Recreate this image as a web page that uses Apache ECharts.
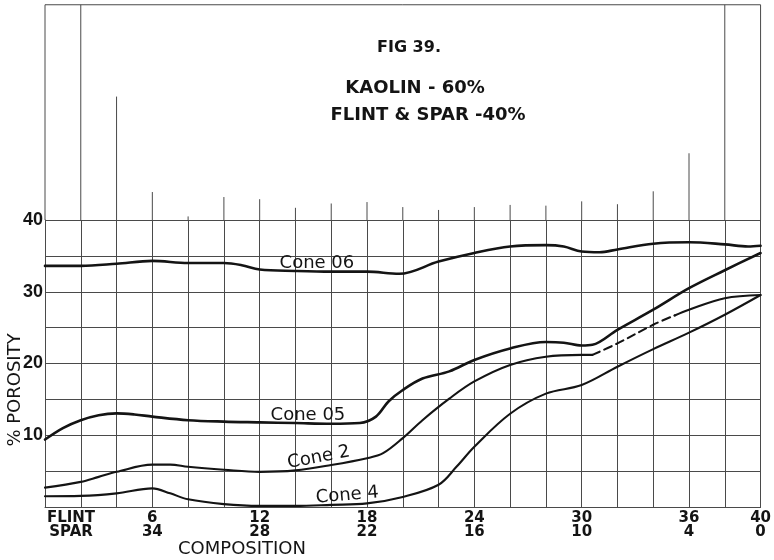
<!DOCTYPE html>
<html>
<head>
<meta charset="utf-8">
<title>Fig 39 – Porosity of kaolin / flint / spar bodies</title>
<script src="https://cdn.jsdelivr.net/npm/echarts@6/dist/echarts.min.js"></script>
<style>
  html, body { margin: 0; padding: 0; background: #fff; }
  #chart { width: 774px; height: 560px; }
</style>
</head>
<body>
<div id="chart"></div>
<script>
// ---- composition axis (flint rises as spar falls, total 40 %) ----
const flintTicks    = [0, 6, 12, 18, 24, 30, 36, 40];
const flintTickText = ['FLINT', '6', '12', '18', '24', '30', '36', '40'];
const sparTickText  = ['SPAR', '34', '28', '22', '16', '10', '4', '0'];

// ---- porosity axis ----
const porosityTicks = [10, 20, 30, 40];

// ---- porosity curves: [flint %, porosity %] ----
const cone06 = [[0,33.6],[2,33.6],[4,33.9],[6,34.3],[8,34.0],[10,34.0],[11,33.7],[12,33.1],[14,32.9],
  [16,32.8],[18,32.8],[19.8,32.5],[22,34.2],[24,35.4],[26,36.3],[28,36.5],[29,36.3],[30,35.6],
  [31,35.5],[32,35.9],[34,36.7],[36,36.9],[38,36.6],[39.3,36.3],[40,36.4]];

const cone05 = [[0,9.4],[1,11.0],[2,12.1],[3,12.8],[4,13.05],[5,12.9],[6,12.6],[8,12.1],[10,11.9],
  [12,11.8],[14,11.7],[16,11.6],[17.6,11.7],[18.5,12.6],[19.2,14.7],[20,16.3],[21.1,17.9],
  [22.6,18.9],[24,20.5],[26,22.1],[28,23.0],[29,22.9],[30,22.5],[30.6,22.6],[32,24.7],[34,27.5],
  [36,30.5],[38,33.0],[40,35.4]];

const cone2 = [[0,2.7],[2,3.5],[3,4.2],[4,4.9],[6,5.9],[7,5.9],[8,5.6],[10,5.2],[12,4.9],[14,5.1],
  [16,5.85],[18,6.8],[18.9,7.5],[20,9.6],[21.1,12.1],[22.6,15.1],[24,17.5],[26,19.8],[28,20.95],
  [30,21.2],[30.6,21.2]];
const cone2Broken = [[30.6,21.2],[32,22.8],[34,25.4],[35.2,26.7]];
const cone2End = [[35.2,26.7],[36,27.5],[38,29.1],[40,29.55]];

const cone4 = [[0,1.5],[2,1.55],[4,1.9],[6,2.6],[7,1.9],[8,1.07],[10,0.4],[12,0.15],[14,0.15],
  [16,0.3],[18,0.5],[20,1.4],[22,3.1],[23,5.6],[24,8.4],[26,13.0],[28,15.8],[30,17.0],[32,19.55],
  [34,22.0],[36,24.3],[38,26.8],[40,29.55]];

// ---- graph-paper rulings that run on above the 40 % line (tops, in porosity units) ----
const rulingFlint = [0,2,4,6,8,10,12,14,16,18,20,22,24,26,28,30,32,34,36,38,40];
const rulingTop   = [70,70,57.2,43.9,40.5,43.2,42.9,41.7,42.3,42.5,41.8,41.4,41.8,42.1,42.0,42.6,42.2,44.0,49.3,70,70];
const sheetTop = 70;

// ---- curve captions ----
const captionText = ['Cone 06', 'Cone 05', 'Cone 2', 'Cone 4'];
const captionAt   = [[15.2, 33.9], [14.7, 12.8], [15.3, 6.9], [16.9, 1.63]];

const captionTilt = [0, 0, 11, 5];
const INK = '#141414';
const RULE = '#4a4a4a';
const FONT = '"DejaVu Sans", "Noto Sans", sans-serif';

const chart = echarts.init(document.getElementById('chart'), null, { renderer: 'canvas' });

function curve(name, data, width, dash) {
  return {
    type: 'line', name, data,
    smooth: 0.35, symbol: 'none', showSymbol: false, silent: true, z: 5,
    lineStyle: { color: INK, width, type: dash ? [8, 5] : 'solid', cap: 'round', join: 'round' }
  };
}

const option = {
  animation: false,
  backgroundColor: '#ffffff',
  grid: { left: 45, right: 12, top: 220, bottom: 53, containLabel: false },
  xAxis: {
    type: 'value', min: 0, max: 40, interval: 2,
    axisLine: { show: true, lineStyle: { color: RULE, width: 1 } },
    axisTick: { show: false },
    splitLine: { show: true, lineStyle: { color: RULE, width: 1 } },
    axisLabel: {
      show: true, margin: 4, color: INK,
      fontFamily: FONT, fontWeight: 'bold', fontSize: 15, lineHeight: 14,
      alignMinLabel: 'left',
      formatter: (v) => {
        const i = flintTicks.indexOf(v);
        if (i < 0) return '';
        if (i === 0) return '{lead|' + flintTickText[0] + '}\n{lead|' + sparTickText[0] + '}';
        return flintTickText[i] + '\n' + sparTickText[i];
      },
      rich: {
        lead: { width: 52, align: 'center', fontFamily: FONT, fontWeight: 'bold', fontSize: 15, lineHeight: 14, color: INK }
      }
    }
  },
  yAxis: {
    type: 'value', min: 0, max: 40, interval: 5,
    axisLine: { show: true, lineStyle: { color: RULE, width: 1 } },
    axisTick: { show: false },
    splitLine: { show: true, lineStyle: { color: RULE, width: 1 } },
    axisLabel: {
      show: true, margin: 2, color: INK,
      fontFamily: '"Liberation Sans", Arial, sans-serif',
      fontWeight: 'bold', fontSize: 18, padding: [8, 0, 0, 0],
      formatter: (v) => porosityTicks.includes(v) ? String(v) : ''
    }
  },
  graphic: [
    { type: 'text', x: 409, y: 48, style: { text: 'FIG 39.', font: 'bold 16px ' + FONT, fill: INK, align: 'center', verticalAlign: 'middle' } },
    { type: 'text', x: 415, y: 88, style: { text: 'KAOLIN - 60%', font: 'bold 18px ' + FONT, fill: INK, align: 'center', verticalAlign: 'middle' } },
    { type: 'text', x: 428, y: 115, style: { text: 'FLINT & SPAR -40%', font: 'bold 18px ' + FONT, fill: INK, align: 'center', verticalAlign: 'middle' } },
    { type: 'text', x: 242, y: 549, style: { text: 'COMPOSITION', font: '18px ' + FONT, fill: INK, align: 'center', verticalAlign: 'middle' } },
    { type: 'text', x: 15, y: 390, rotation: Math.PI / 2, style: { text: '% POROSITY', font: '18px ' + FONT, fill: INK, align: 'center', verticalAlign: 'middle' } }
  ],
  series: [
    // rulings of the sheet above the plotted range
    {
      type: 'custom', silent: true, clip: false, z: 1,
      data: rulingFlint.map((f, i) => [f, rulingTop[i]]),
      renderItem: (params, api) => {
        const x = api.value(0);
        const a = api.coord([x, 40]);
        const b = api.coord([x, api.value(1)]);
        return { type: 'line', shape: { x1: a[0], y1: a[1], x2: b[0], y2: b[1] }, style: { stroke: RULE, lineWidth: 1 } };
      }
    },
    // top edge of the sheet
    {
      type: 'custom', silent: true, clip: false, z: 1,
      data: [[0, sheetTop, 40]],
      renderItem: (params, api) => {
        const a = api.coord([api.value(0), api.value(1)]);
        const b = api.coord([api.value(2), api.value(1)]);
        return { type: 'line', shape: { x1: a[0], y1: a[1], x2: b[0], y2: b[1] }, style: { stroke: RULE, lineWidth: 1 } };
      }
    },
    curve('Cone 06', cone06, 2.6, false),
    curve('Cone 05', cone05, 2.6, false),
    curve('Cone 2', cone2, 2.1, false),
    curve('Cone 2 (broken)', cone2Broken, 2.1, true),
    curve('Cone 2 (end)', cone2End, 2.1, false),
    curve('Cone 4', cone4, 2.1, false),
    // captions written along the curves
    {
      type: 'custom', silent: true, clip: false, z: 6,
      data: captionAt.map((p, i) => [p[0], p[1], i]),
      renderItem: (params, api) => {
        const p = api.coord([api.value(0), api.value(1)]);
        const i = api.value(2);
        return {
          type: 'text', x: p[0], y: p[1], rotation: captionTilt[i] * Math.PI / 180,
          style: { text: captionText[i], font: '18px ' + FONT, fill: INK, align: 'center', verticalAlign: 'middle' }
        };
      }
    }
  ]
};

chart.setOption(option);
</script>
</body>
</html>
